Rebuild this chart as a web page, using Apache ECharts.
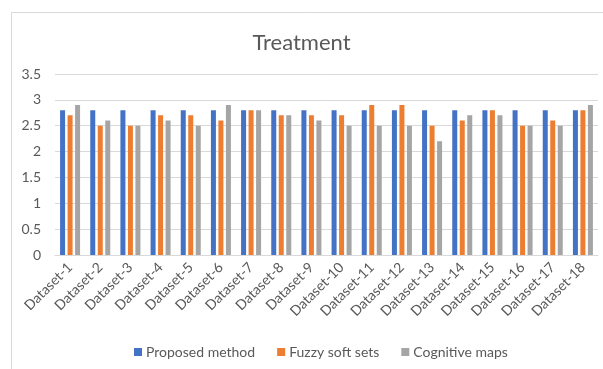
<!DOCTYPE html>
<html>
<head>
<meta charset="utf-8">
<script src="https://cdn.jsdelivr.net/npm/echarts@6/dist/echarts.min.js"></script>
<style>
  html, body { margin: 0; padding: 0; background: #fff; }
  #chart { width: 603px; height: 369px; }
</style>
</head>
<body>
<div id="chart"></div>
<script>
// categories
const datasets = ['Dataset-1', 'Dataset-2', 'Dataset-3', 'Dataset-4', 'Dataset-5', 'Dataset-6',
  'Dataset-7', 'Dataset-8', 'Dataset-9', 'Dataset-10', 'Dataset-11', 'Dataset-12',
  'Dataset-13', 'Dataset-14', 'Dataset-15', 'Dataset-16', 'Dataset-17', 'Dataset-18'];

// series values
const proposedMethod = [2.8, 2.8, 2.8, 2.8, 2.8, 2.8, 2.8, 2.8, 2.8, 2.8, 2.8, 2.8, 2.8, 2.8, 2.8, 2.8, 2.8, 2.8];
const fuzzySoftSets = [2.7, 2.5, 2.5, 2.7, 2.7, 2.6, 2.8, 2.7, 2.7, 2.7, 2.9, 2.9, 2.5, 2.6, 2.8, 2.5, 2.6, 2.8];
const cognitiveMaps = [2.9, 2.6, 2.5, 2.6, 2.5, 2.9, 2.8, 2.7, 2.6, 2.5, 2.5, 2.5, 2.2, 2.7, 2.7, 2.5, 2.5, 2.9];

const seriesNames = ['Proposed method', 'Fuzzy soft sets', 'Cognitive maps'];
const colors = ['#4472C4', '#ED7D31', '#A5A5A5'];

const font = 'Lato, "Open Sans", sans-serif';
const chart = echarts.init(document.getElementById('chart'));

const makeBar = (name, data, color) => ({
  name: name,
  type: 'bar',
  data: data,
  barWidth: 5,
  barGap: '50%',
  itemStyle: { color: color }
});

chart.setOption({
  animation: false,
  backgroundColor: '#fff',
  textStyle: { fontFamily: font },
  graphic: [{
    type: 'rect',
    shape: { x: 11.5, y: 12.5, width: 700, height: 500 },
    style: { fill: 'none', stroke: '#D9D9D9', lineWidth: 1 },
    silent: true
  }],
  title: {
    text: 'Treatment',
    left: 'center',
    top: 27,
    textStyle: { fontFamily: font, fontSize: 22, fontWeight: 'normal', color: '#595959' }
  },
  legend: {
    top: 340,
    left: 129,
    itemWidth: 8,
    itemHeight: 8,
    itemGap: 22,
    icon: 'rect',
    textStyle: { fontFamily: font, fontSize: 14, color: '#595959', padding: [0, 0, 0, -1] },
    data: seriesNames
  },
  grid: { left: 55, right: 5, top: 74, bottom: 114, containLabel: false },
  xAxis: {
    type: 'category',
    data: datasets,
    axisLine: { lineStyle: { color: '#D9D9D9' } },
    axisTick: { show: false },
    axisLabel: { rotate: 45, color: '#595959', fontSize: 14, fontFamily: font, interval: 0, margin: 10 }
  },
  yAxis: {
    type: 'value',
    min: 0,
    max: 3.5,
    interval: 0.5,
    axisLine: { show: false },
    axisTick: { show: false },
    axisLabel: { color: '#595959', fontSize: 14, fontFamily: font, margin: 14 },
    splitLine: { lineStyle: { color: '#D9D9D9' } }
  },
  series: [
    makeBar(seriesNames[0], proposedMethod, colors[0]),
    makeBar(seriesNames[1], fuzzySoftSets, colors[1]),
    makeBar(seriesNames[2], cognitiveMaps, colors[2])
  ]
});
</script>
</body>
</html>
